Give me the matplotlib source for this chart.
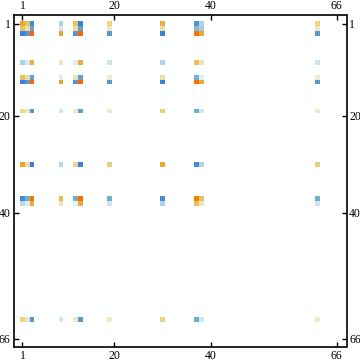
import matplotlib
matplotlib.use('Agg')
import matplotlib.pyplot as plt
from matplotlib.colors import LinearSegmentedColormap
import numpy as np

# rows / columns that hold non zero values (1 based)
idx = [1, 2, 3, 9, 12, 13, 19, 30, 37, 38, 62]
ticks = [1, 20, 40, 66]

# values, negative = orange, positive = blue
row1 = [-.65, -.5, .9, .4, -.5, 1.0, -.35, -.6, .8, .4, -.35]
row2 = [-.5, -.3, .7, .25, -.3, .7, -.2, -.3, .55, .45, -.2]
row3 = [1.0, .75, -1, -.65, .75, -1, .75, 1.0, -.9, -.65, .75]
row9 = [.4, .2, -.6, -.22, .15, -.6, .25, .4, -.5, -.25, .25]
row12 = [-.5, -.3, .7, .15, -.25, .7, -.15, -.3, .6, .15, -.15]
row13 = [1.0, .75, -1, -.65, .75, -1, .75, 1.0, -.95, -.65, .75]
row19 = [-.35, -.22, .75, .22, -.18, .7, -.18, -.4, .6, .25, -.18]
row30 = [-.65, -.3, 1.0, .4, -.35, 1.0, -.4, -.65, .9, .4, -.4]
row37 = [.9, .6, -.9, -.55, .6, -.95, .6, .9, -.85, -.5, .6]
row38 = [.35, .18, -.62, -.22, .12, -.62, .25, .4, -.5, -.22, .25]
row62 = [-.38, -.22, .75, .22, -.18, .75, -.2, -.38, .6, .25, -.18]
rows = [row1, row2, row3, row9, row12, row13, row19, row30, row37, row38, row62]

# fill the 66x66 matrix
m = np.zeros((66, 66))
for r, vals in zip(idx, rows):
    for c, v in zip(idx, vals):
        m[r-1, c-1] = v

stops = [(0, '#ff6600'), (.075, '#f08000'), (.2, '#e8b040'), (.275, '#edc870'),
         (.35, '#efdca0'), (.425, '#f0ecd4'), (.5, '#ffffff'), (.575, '#e0ecf4'),
         (.65, '#c8e0ec'), (.725, '#a8cde0'), (.8, '#70b0d4'), (.875, '#5a9ad0'),
         (1, '#3d7fdb')]
cmap = LinearSegmentedColormap.from_list('po', stops)

fig = plt.figure(figsize=(3.6, 3.63), dpi=100)
ax = fig.add_axes([13.5/360, 1-347.3/363, 333/360, 332.1/363])
edges = np.arange(0.5, 67)
ax.pcolormesh(edges, edges, m, cmap=cmap, vmin=-1, vmax=1, antialiased=False, snap=True)
ax.set_xlim(-0.84, 68.03)
ax.set_ylim(67.74, -0.77)

ax.set_xticks(ticks)
ax.set_yticks(ticks)
ax.tick_params(top=True, bottom=True, left=True, right=True,
               labeltop=True, labelbottom=True, labelleft=True, labelright=True,
               direction='in', length=3.5, width=1.0, labelsize=8.5, pad=2)
for lab in ax.get_xticklabels() + ax.get_yticklabels():
    lab.set_family('Liberation Serif')
for s in ax.spines.values():
    s.set_linewidth(1.2)

fig.savefig('out.png', dpi=100)
